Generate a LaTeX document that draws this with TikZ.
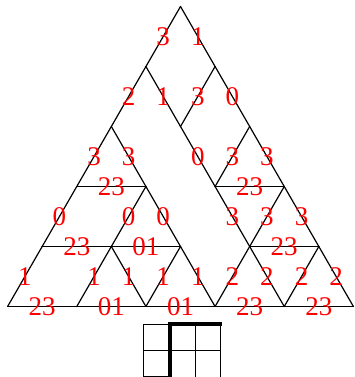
\documentclass[tikz,border=0pt]{standalone}
\usepackage{fontspec}
\setmainfont{Liberation Serif}
\begin{document}
\begin{tikzpicture}[x=1pt,y=-1pt,
  edge/.style={line width=1.2pt,black,line cap=round},
  lab/.style={text=red,inner sep=0pt,font=\fontsize{27}{30}\selectfont},
  thin/.style={line width=1pt,black},
  thick/.style={line width=4.3pt,black}]
\useasboundingbox (0,0) rectangle (354,377);
% lattice points
\foreach \r in {0,...,5}{
  \foreach \j in {0,...,\r}{
    \coordinate (p\r\j) at ({180.5-34.58*\r+69.16*\j},{6.5+60*\r});
  }
}
% outer left
\draw[edge] (p00) -- node[lab]{3} (p10);
\draw[edge] (p10) -- node[lab]{2} (p20);
\draw[edge] (p20) -- node[lab]{3} (p30);
\draw[edge] (p30) -- node[lab]{0} (p40);
\draw[edge] (p40) -- node[lab]{1} (p50);
% outer right
\draw[edge] (p00) -- node[lab]{1} (p11);
\draw[edge] (p11) -- node[lab]{0} (p22);
\draw[edge] (p22) -- node[lab]{3} (p33);
\draw[edge] (p33) -- node[lab]{3} (p44);
\draw[edge] (p44) -- node[lab]{2} (p55);
% base
\draw[edge] (p50) -- node[lab]{23} (p51);
\draw[edge] (p51) -- node[lab]{01} (p52);
\draw[edge] (p52) -- node[lab]{01} (p53);
\draw[edge] (p53) -- node[lab]{23} (p54);
\draw[edge] (p54) -- node[lab]{23} (p55);
% long line A
\draw[edge] (p10) -- node[lab]{1} (p21);
\draw[edge] (p21) -- node[lab]{0} (p32);
\draw[edge] (p32) -- node[lab]{3} (p43);
\draw[edge] (p43) -- node[lab]{2} (p54);
% long line B
\draw[edge] (p20) -- node[lab]{3} (p31);
\draw[edge] (p31) -- node[lab]{0} (p42);
\draw[edge] (p42) -- node[lab]{1} (p53);
% other edges
\draw[edge] (p11) -- node[lab]{3} (p21);
\draw[edge] (p22) -- node[lab]{3} (p32);
\draw[edge] (p30) -- node[lab]{23} (p31);
\draw[edge] (p31) -- node[lab]{0} (p41);
\draw[edge] (p40) -- node[lab]{23} (p41);
\draw[edge] (p41) -- node[lab]{01} (p42);
\draw[edge] (p41) -- node[lab]{1} (p51);
\draw[edge] (p41) -- node[lab]{1} (p52);
\draw[edge] (p42) -- node[lab]{1} (p52);
\draw[edge] (p32) -- node[lab]{23} (p33);
\draw[edge] (p33) -- node[lab]{3} (p43);
\draw[edge] (p43) -- node[lab]{23} (p44);
\draw[edge] (p43) -- node[lab]{2} (p53);
\draw[edge] (p44) -- node[lab]{2} (p54);
% small grid
\draw[thin] (169.5,376.2) -- (143.8,376.2) -- (143.8,324.8) -- (169.5,324.8);
\draw[thin] (143.8,350.5) -- (220.9,350.5);
\draw[thin] (195.2,324.8) -- (195.2,380);
\draw[thin] (220.9,324.8) -- (220.9,380);
\draw[thick] (169.9,380) -- (169.9,324.2) -- (222,324.2);
\end{tikzpicture}
\end{document}
